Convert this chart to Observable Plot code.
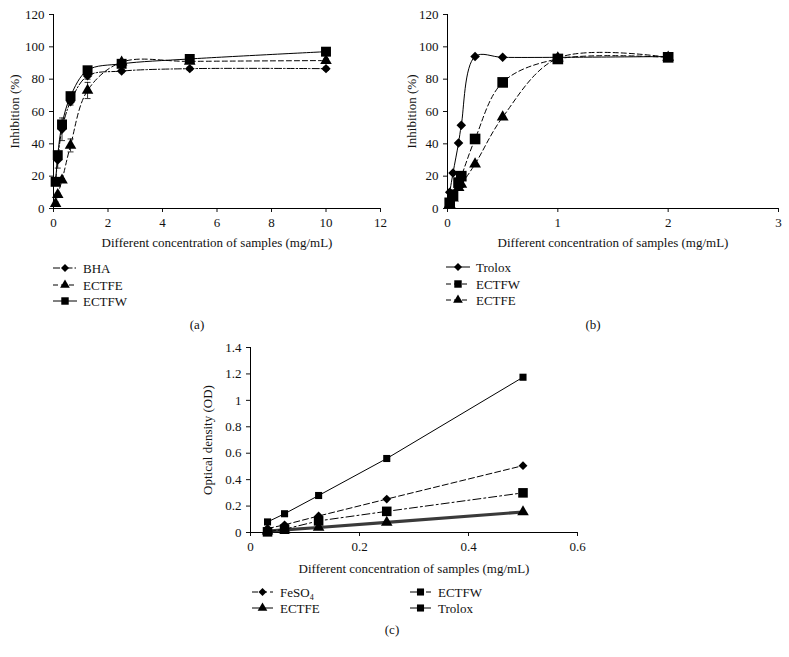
<!DOCTYPE html>
<html><head><meta charset="utf-8">
<script src="https://cdn.jsdelivr.net/npm/d3@7"></script>
<script src="https://cdn.jsdelivr.net/npm/@observablehq/plot@0.6"></script>
<style>
body{margin:0;background:#fff;}
#root{position:relative;width:789px;height:657px;background:#fff;font-family:"Liberation Serif",serif;color:#111;overflow:hidden;}
.panel{position:absolute;}
.panel svg text{font-family:"Liberation Serif",serif !important;font-size:13px !important;}
.cap{position:absolute;font-size:13px;transform:translate(-50%,-50%);white-space:nowrap;}
</style></head><body><div id="root"></div>
<script>
// ---------- Panel (a) data ----------
const aX = [0.078, 0.156, 0.3125, 0.625, 1.25, 2.5, 5, 10];
const aBHA = [17, 30, 49, 66, 82, 85, 86.5, 86.5];
const aBHAerr = [1, 5, 7, 2, 2, 1, 1, 1];
const aECTFE = [3, 8.5, 17.5, 39, 73, 90.5, 91, 91.5];
const aECTFEerr = [1, 1, 1, 4, 5, 1, 1, 1];
const aECTFW = [16.5, 33, 52, 69.5, 85.5, 89.5, 92.5, 97];
const aXTicks = [0, 2, 4, 6, 8, 10, 12];
const aYTicks = [0, 20, 40, 60, 80, 100, 120];
const aNames = ["BHA", "ECTFE", "ECTFW"];

// ---------- Panel (b) data ----------
const bX = [0.02, 0.05, 0.1, 0.125, 0.25, 0.5, 1, 2];
const bTrolox = [10, 22, 40.5, 51.5, 94, 93.5, 93.5, 94];
const bECTFW = [3.5, 8.5, 16, 20, 43, 78, 92.5, 93.5];
const bECTFE = [2.5, 6.5, 13, 15, 27.5, 56.5, 93, 93.5];
const bXTicks = [0, 1, 2, 3];
const bYTicks = [0, 20, 40, 60, 80, 100, 120];
const bNames = ["Trolox", "ECTFW", "ECTFE"];

// ---------- Panel (c) data ----------
const cX = [0.03125, 0.0625, 0.125, 0.25, 0.5];
const cFeSO4 = [0.03, 0.058, 0.125, 0.253, 0.506];
const cECTFE = [0.01, 0.02, 0.038, 0.077, 0.155];
const cECTFW = [0.005, 0.025, 0.088, 0.16, 0.3];
const cTrolox = [0.08, 0.142, 0.28, 0.56, 1.175];
const cXTicks = [0, 0.2, 0.4, 0.6];
const cYTicks = [0, 0.2, 0.4, 0.6, 0.8, 1, 1.2, 1.4];
const cNames = ["FeSO4", "ECTFE", "ECTFW", "Trolox"];

const xLabel = "Different concentration of samples (mg/mL)";
const FONT = "'Liberation Serif', serif";

const rowsOf = (xs, ys, errs) => xs.map((x, i) => ({x, y: ys[i], err: errs ? errs[i] : 0}));
const capSymbol = {draw(ctx) { ctx.moveTo(-3, 0); ctx.lineTo(3, 0); }};
const d3Sym = {square: d3.symbolSquare, triangle: d3.symbolTriangle, diamond2: d3.symbolDiamond2};

function seriesMarks(s, curve) {
  const rows = s.rows;
  const marks = [];
  marks.push(Plot.line(rows, {x: "x", y: "y", curve, stroke: s.stroke || "black",
    strokeWidth: s.strokeWidth || 1, strokeDasharray: s.dash || null}));
  if (s.err) {
    marks.push(Plot.ruleX(rows, {x: "x", y1: d => d.y - d.err, y2: d => d.y + d.err, stroke: "black", strokeWidth: 0.8}));
    marks.push(Plot.dot(rows, {x: "x", y: d => d.y + d.err, symbol: capSymbol, stroke: "black", strokeWidth: 0.8, fill: "none"}));
    marks.push(Plot.dot(rows, {x: "x", y: d => d.y - d.err, symbol: capSymbol, stroke: "black", strokeWidth: 0.8, fill: "none"}));
  }
  return marks;
}
function dotMarks(s) {
  return Plot.dot(s.rows, {x: "x", y: "y", symbol: s.symbol, r: s.r, fill: "black", stroke: "none"});
}

function makePanel(cfg) {
  const marks = [
    Plot.ruleY([cfg.yDomain[0]], {stroke: "black", strokeWidth: 1}),
    Plot.ruleX([cfg.xDomain[0]], {stroke: "black", strokeWidth: 1}),
  ];
  cfg.series.forEach(s => marks.push(...seriesMarks(s, cfg.curve)));
  cfg.series.forEach(s => marks.push(dotMarks(s)));
  const fmt = d => `${+d.toFixed(2)}`;
  const svg = Plot.plot({
    width: cfg.width, height: cfg.height,
    marginLeft: cfg.ml, marginRight: cfg.mr, marginTop: cfg.mt, marginBottom: cfg.mb,
    style: {fontFamily: FONT, fontSize: "13px", background: "white", color: "#111", overflow: "visible"},
    x: {domain: cfg.xDomain, ticks: cfg.xTicks, tickFormat: fmt, tickSize: 4, label: xLabel,
        labelAnchor: "center", labelOffset: cfg.xLabelOffset, labelArrow: "none"},
    y: {domain: cfg.yDomain, ticks: cfg.yTicks, tickFormat: fmt, tickSize: 4, label: cfg.yLabel,
        labelAnchor: "center", labelOffset: cfg.yLabelOffset, labelArrow: "none"},
    marks
  });
  const div = document.createElement("div");
  div.className = "panel";
  div.style.left = cfg.left + "px";
  div.style.top = cfg.top + "px";
  div.appendChild(svg);
  document.getElementById("root").appendChild(div);
}

function makeLegend(cfg) {
  const svg = d3.create("svg").attr("width", cfg.width).attr("height", cfg.height)
    .style("position", "absolute").style("left", cfg.left + "px").style("top", cfg.top + "px")
    .style("overflow", "visible");
  cfg.items.forEach(it => {
    const g = svg.append("g").attr("transform", `translate(${it.x},${it.y})`);
    g.append("line").attr("x1", 0).attr("x2", cfg.lineLen).attr("y1", 0).attr("y2", 0)
      .attr("stroke", "black").attr("stroke-width", 1).attr("stroke-dasharray", it.s.dash || null);
    g.append("path").attr("transform", `translate(${cfg.lineLen / 2},0)`)
      .attr("d", d3.symbol().type(d3Sym[it.s.symbol]).size(Math.PI * it.s.lr * it.s.lr)()).attr("fill", "black");
    const t = g.append("text").attr("x", cfg.textDx).attr("y", 0).attr("dy", "0.35em")
      .attr("font-family", FONT).attr("font-size", 13).attr("fill", "#111");
    if (it.label === "FeSO4") {
      t.append("tspan").text("FeSO");
      t.append("tspan").attr("font-size", 8).attr("dy", 3).text("4");
    } else t.text(it.label);
  });
  document.getElementById("root").appendChild(svg.node());
}

// ---------- series styles ----------
const aSeries = [
  {name: aNames[0], rows: rowsOf(aX, aBHA, aBHAerr), err: true, symbol: "diamond2", r: 4.2, lr: 3.6, dash: "7,2,1.5,2"},
  {name: aNames[1], rows: rowsOf(aX, aECTFE, aECTFEerr), err: true, symbol: "triangle", r: 4.3, lr: 3.6, dash: "5,3"},
  {name: aNames[2], rows: rowsOf(aX, aECTFW), symbol: "square", r: 5.6, lr: 4.2, dash: null},
];
const bSeries = [
  {name: bNames[0], rows: rowsOf(bX, bTrolox), symbol: "diamond2", r: 4.3, lr: 3.6, dash: null},
  {name: bNames[2], rows: rowsOf(bX, bECTFE), symbol: "triangle", r: 4.4, lr: 3.6, dash: "5,3"},
  {name: bNames[1], rows: rowsOf(bX, bECTFW), symbol: "square", r: 6, lr: 4.2, dash: "5,3"},
];
const cSeries = [
  {name: cNames[1], rows: rowsOf(cX, cECTFE), symbol: "triangle", r: 4.3, lr: 3.6, dash: null, stroke: "#3a3a3a", strokeWidth: 3.2},
  {name: cNames[0], rows: rowsOf(cX, cFeSO4), symbol: "diamond2", r: 4, lr: 3.6, dash: "6,3"},
  {name: cNames[2], rows: rowsOf(cX, cECTFW), symbol: "square", r: 5.4, lr: 4, dash: "8,3,2,3"},
  {name: cNames[3], rows: rowsOf(cX, cTrolox), symbol: "square", r: 4, lr: 4, dash: null},
];

makePanel({left: 0, top: 0, width: 395, height: 260, ml: 53, mr: 15, mt: 14, mb: 52,
  xDomain: [0, 12], yDomain: [0, 120], xTicks: aXTicks, yTicks: aYTicks,
  yLabel: "Inhibition (%)", xLabelOffset: 38, yLabelOffset: 44, curve: "catmull-rom", series: aSeries});
makePanel({left: 395, top: 0, width: 394, height: 260, ml: 52, mr: 11, mt: 14, mb: 52,
  xDomain: [0, 3], yDomain: [0, 120], xTicks: bXTicks, yTicks: bYTicks,
  yLabel: "Inhibition (%)", xLabelOffset: 38, yLabelOffset: 41, curve: "catmull-rom", series: bSeries});
makePanel({left: 190, top: 330, width: 400, height: 250, ml: 60, mr: 13, mt: 17, mb: 48,
  xDomain: [0, 0.6], yDomain: [0, 1.4], xTicks: cXTicks, yTicks: cYTicks,
  yLabel: "Optical density (OD)", xLabelOffset: 40, yLabelOffset: 48, curve: "linear", series: cSeries});

makeLegend({left: 40, top: 255, width: 120, height: 60, lineLen: 24, textDx: 30, items: [
  {x: 13, y: 13, s: aSeries[0], label: aNames[0]},
  {x: 13, y: 30, s: aSeries[1], label: aNames[1]},
  {x: 13, y: 46, s: aSeries[2], label: aNames[2]},
]});
makeLegend({left: 435, top: 255, width: 120, height: 60, lineLen: 24, textDx: 30, items: [
  {x: 11, y: 12, s: bSeries[0], label: bNames[0]},
  {x: 11, y: 29, s: bSeries[2], label: bNames[1]},
  {x: 11, y: 45, s: bSeries[1], label: bNames[2]},
]});
makeLegend({left: 240, top: 580, width: 260, height: 40, lineLen: 21, textDx: 28, items: [
  {x: 12, y: 12, s: cSeries[1], label: cNames[0]},
  {x: 12, y: 28, s: {symbol: "triangle", lr: 3.6, dash: null}, label: cNames[1]},
  {x: 170, y: 12, s: cSeries[2], label: cNames[2]},
  {x: 170, y: 28, s: cSeries[3], label: cNames[3]},
]});

const caps = [["(a)", 197, 325], ["(b)", 593, 325], ["(c)", 392, 630]];
caps.forEach(([t, x, y]) => {
  const d = document.createElement("div");
  d.className = "cap"; d.textContent = t;
  d.style.left = x + "px"; d.style.top = y + "px";
  document.getElementById("root").appendChild(d);
});
</script></body></html>
